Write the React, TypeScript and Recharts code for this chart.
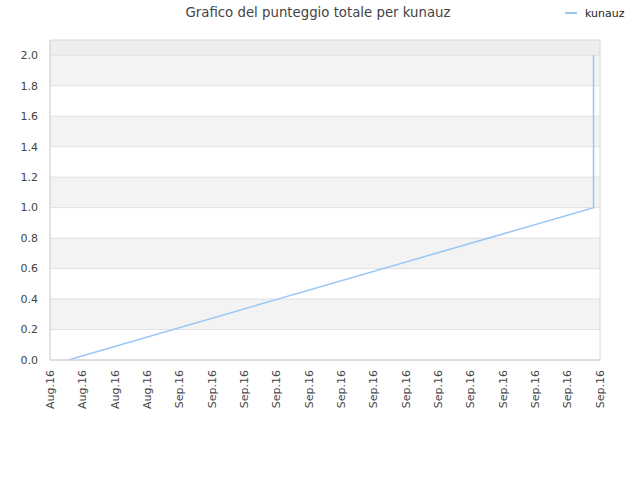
import { LineChart, Line, XAxis, YAxis, ReferenceArea, ReferenceLine } from 'recharts'

// etichette dell'asse x (una per tacca)
const xLabels = [
  'Aug.16', 'Aug.16', 'Aug.16', 'Aug.16',
  'Sep.16', 'Sep.16', 'Sep.16', 'Sep.16', 'Sep.16', 'Sep.16', 'Sep.16',
  'Sep.16', 'Sep.16', 'Sep.16', 'Sep.16', 'Sep.16', 'Sep.16', 'Sep.16',
]
const xTicks = xLabels.map((_, i) => i)

// punti della serie (posizione sull'asse del tempo, punteggio)
const giorni = [0.56, 16.8, 16.8]
const punteggi = [0, 1, 2]

const yTicks = [0, 0.2, 0.4, 0.6, 0.8, 1.0, 1.2, 1.4, 1.6, 1.8, 2.0]
const yMax = 2.1

const serieNome = 'kunauz'
const serieColore = '#99c7f5'

const data = giorni.map((g, i) => ({ giorno: g, kunauz: punteggi[i] }))

const FONT = '"DejaVu Sans", Verdana, sans-serif'

function XTick({ x, y, payload }: any) {
  return (
    <text
      x={x}
      y={y}
      transform={`rotate(-90, ${x}, ${y})`}
      textAnchor="end"
      dy="0.35em"
      fontSize={11}
      fill="#444"
      fontFamily={FONT}
    >
      {xLabels[payload.value]}
    </text>
  )
}

function YTick({ x, y, payload }: any) {
  return (
    <text x={x} y={y} textAnchor="end" dy="0.35em" fontSize={11} fill="#444" fontFamily={FONT}>
      {Number(payload.value).toFixed(1)}
    </text>
  )
}

export default function App() {
  // bande grigie alternate (0.2-0.4, 0.6-0.8, ...)
  const bands: number[][] = []
  for (let i = 1; i < yTicks.length - 1; i += 2) bands.push([yTicks[i], yTicks[i + 1]])

  return (
    <div style={{ position: 'absolute', left: 0, top: 0, width: 640, height: 480, background: '#fff' }}>
      <LineChart width={640} height={480} data={data} margin={{ top: 40, right: 40, bottom: 0, left: 0 }}>
        <ReferenceArea x1={0} x2={17} y1={2.0} y2={yMax} fill="#eeeeee" fillOpacity={1} stroke="none" />
        {bands.map(([a, b], i) => (
          <ReferenceArea key={i} x1={0} x2={17} y1={a} y2={b} fill="#f3f3f3" fillOpacity={1} stroke="none" />
        ))}
        {yTicks.map((t) => (
          <ReferenceLine key={t} y={t} stroke="#e0e0e0" strokeWidth={1} />
        ))}
        <ReferenceArea x1={0} x2={17} y1={0} y2={yMax} fill="none" stroke="#d8d8d8" strokeOpacity={1} />
        <XAxis
          dataKey="giorno"
          type="number"
          domain={[0, 17]}
          ticks={xTicks}
          interval={0}
          height={120}
          tickSize={0}
          tickMargin={10}
          axisLine={{ stroke: '#d8d8d8' }}
          tickLine={false}
          tick={<XTick />}
        />
        <YAxis
          type="number"
          domain={[0, yMax]}
          ticks={yTicks}
          width={50}
          tickSize={0}
          tickMargin={12}
          axisLine={{ stroke: '#d8d8d8' }}
          tickLine={false}
          tick={<YTick />}
        />
        <Line
          type="linear"
          dataKey="kunauz"
          name={serieNome}
          stroke={serieColore}
          strokeWidth={1.5}
          dot={false}
          isAnimationActive={false}
        />
      </LineChart>
      {/* titolo e legenda */}
      <svg width={640} height={30} style={{ position: 'absolute', left: 0, top: 0 }}>
        <text x={318} y={17} textAnchor="middle" fontSize={13.3} fill="#444" fontFamily={FONT}>
          Grafico del punteggio totale per kunauz
        </text>
        <line x1={565} x2={577} y1={13} y2={13} stroke={serieColore} strokeWidth={2} />
        <text x={585} y={17} fontSize={11} fill="#222" fontFamily={FONT}>
          {serieNome}
        </text>
      </svg>
    </div>
  )
}
